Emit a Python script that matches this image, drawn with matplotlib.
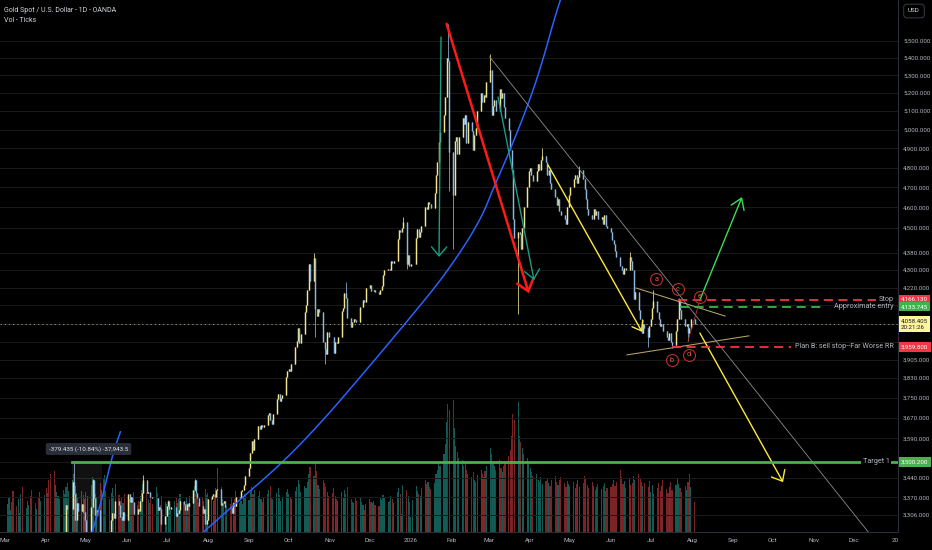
import numpy as np
import pandas as pd
import matplotlib
matplotlib.use("Agg")
import matplotlib.pyplot as plt
import matplotlib.dates as mdates

plt.rcParams['font.family'] = ['Roboto', 'DejaVu Sans']
plt.rcParams['lines.scale_dashes'] = False

# ---------------- daily closes (USD) per month ----------------
close_2025_03 = [2893, 2918, 2920, 2911, 2910, 2889, 2916, 2934, 2988, 2984, 3001, 3035, 3048, 3043, 3022, 3012, 3020, 3019, 3057, 3085, 3124]
close_2025_04 = [3113, 3134, 3114, 3037, 2982, 2983, 3083, 3176, 3237, 3211, 3230, 3343, 3327, 3328, 3424, 3381, 3289, 3349, 3319, 3345, 3317, 3289]
close_2025_05 = [3239, 3241, 3334, 3431, 3366, 3305, 3325, 3236, 3248, 3177, 3240, 3203, 3230, 3290, 3315, 3295, 3357, 3343, 3300, 3289, 3318, 3289]
close_2025_06 = [3380, 3353, 3372, 3353, 3310, 3326, 3322, 3355, 3386, 3433, 3385, 3388, 3370, 3369, 3368, 3368, 3323, 3333, 3328, 3274, 3303]
close_2025_07 = [3338, 3357, 3326, 3336, 3336, 3301, 3313, 3324, 3355, 3344, 3324, 3347, 3339, 3350, 3397, 3431, 3387, 3368, 3337, 3314, 3326, 3275, 3289]
close_2025_08 = [3363, 3373, 3380, 3369, 3397, 3398, 3342, 3348, 3356, 3336, 3336, 3332, 3315, 3348, 3339, 3371, 3366, 3393, 3397, 3416, 3448]
close_2025_09 = [3476, 3533, 3578, 3545, 3587, 3636, 3626, 3641, 3634, 3643, 3679, 3690, 3660, 3644, 3685, 3746, 3763, 3736, 3749, 3760, 3833, 3858]
close_2025_10 = [3866, 3857, 3886, 3960, 3985, 4040, 3975, 4017, 4110, 4142, 4210, 4326, 4250, 4356, 4125, 4095, 4126, 4112, 3982, 3952, 3930, 4025, 4002]
close_2025_11 = [4000, 3932, 3980, 3977, 4000, 4115, 4128, 4194, 4172, 4085, 4045, 4067, 4078, 4077, 4065, 4135, 4131, 4165, 4157, 4218]
close_2025_12 = [4232, 4205, 4205, 4208, 4198, 4189, 4208, 4228, 4279, 4299, 4304, 4302, 4340, 4332, 4340, 4445, 4491, 4480, 4500, 4530, 4330, 4370, 4320]
close_2026_01 = [4330, 4330, 4450, 4495, 4455, 4478, 4510, 4600, 4590, 4625, 4615, 4595, 4670, 4760, 4830, 4935, 4985, 5080, 5180, 5400, 5380, 4880]
close_2026_02 = [4660, 4940, 4960, 4870, 4960, 5060, 5030, 5080, 4930, 5040, 4990, 4890, 4970, 5010, 5100, 5200, 5150, 5190, 5180, 5260]
close_2026_03 = [5330, 5080, 5130, 5160, 5100, 5220, 5170, 5200, 5120, 5060, 5000, 4890, 4790, 4540, 4450, 4480, 4470, 4400, 4500, 4600, 4700, 4780]
close_2026_04 = [4800, 4760, 4730, 4780, 4820, 4790, 4840, 4860, 4830, 4760, 4790, 4720, 4690, 4650, 4610, 4640, 4580, 4560, 4540, 4520, 4600, 4660]
close_2026_05 = [4700, 4740, 4760, 4720, 4750, 4790, 4740, 4690, 4640, 4590, 4560, 4540, 4590, 4560, 4580, 4540, 4550, 4520, 4560, 4510, 4500]
close_2026_06 = [4480, 4440, 4420, 4390, 4360, 4320, 4300, 4280, 4310, 4300, 4360, 4340, 4300, 4170, 4200, 4120, 4080, 4020, 4060, 4040, 4000, 4050]
close_2026_07 = [4080, 4130, 4160, 4110, 4080, 4050, 4060, 4030, 4000, 3990, 4020, 3980, 3970, 4030, 4080, 4160, 4120, 4080, 4050, 4060, 4020, 4040, 4080]
close_2026_08 = [4058.405]

# ---------------- daily volume (ticks, thousands) per month ----------------
vol_2025_03 = [28, 35, 22, 30, 41, 26, 33, 19, 38, 45, 24, 31, 27, 36, 42, 29, 23, 34, 40, 31, 37]
vol_2025_04 = [44, 39, 52, 58, 61, 47, 40, 36, 33, 42, 38, 45, 49, 41, 52, 58, 46, 39, 35, 41, 37, 33]
vol_2025_05 = [40, 36, 47, 55, 44, 38, 35, 49, 42, 53, 57, 41, 33, 39, 44, 36, 48, 37, 31, 34, 29, 38]
vol_2025_06 = [37, 33, 29, 35, 40, 27, 31, 36, 42, 48, 39, 33, 29, 35, 28, 45, 39, 31, 27, 36, 30]
vol_2025_07 = [28, 32, 25, 22, 31, 35, 29, 33, 38, 30, 27, 34, 29, 36, 41, 46, 38, 33, 29, 35, 31, 43, 37]
vol_2025_08 = [39, 34, 31, 36, 44, 64, 45, 33, 29, 31, 26, 28, 35, 30, 33, 41, 29, 31, 28, 34, 38]
vol_2025_09 = [32, 40, 45, 38, 42, 36, 41, 33, 30, 35, 38, 42, 46, 35, 33, 39, 44, 37, 31, 35, 40, 43]
vol_2025_10 = [38, 35, 33, 41, 45, 52, 48, 40, 46, 44, 50, 58, 65, 56, 69, 61, 47, 43, 52, 49, 45, 40, 36]
vol_2025_11 = [39, 44, 36, 33, 31, 40, 35, 42, 38, 45, 33, 30, 29, 34, 31, 35, 30, 27, 22, 28]
vol_2025_12 = [33, 30, 29, 31, 27, 26, 35, 32, 37, 34, 30, 31, 36, 33, 29, 40, 44, 38, 18, 47, 42, 36, 30]
vol_2026_01 = [15, 32, 46, 41, 38, 36, 44, 52, 48, 50, 45, 43, 49, 58, 62, 70, 66, 78, 88, 110, 128, 122]
vol_2026_02 = [132, 104, 86, 80, 74, 72, 66, 70, 62, 58, 55, 60, 52, 50, 57, 62, 58, 55, 61, 66]
vol_2026_03 = [84, 78, 70, 66, 62, 72, 64, 60, 66, 70, 76, 82, 96, 118, 112, 130, 96, 90, 84, 78, 74, 70]
vol_2026_04 = [64, 60, 56, 58, 52, 50, 55, 48, 51, 54, 49, 46, 52, 56, 50, 47, 52, 55, 49, 45, 51, 48]
vol_2026_05 = [46, 50, 44, 48, 52, 45, 49, 56, 53, 47, 44, 50, 46, 42, 45, 48, 43, 46, 49, 41, 44]
vol_2026_06 = [45, 48, 52, 46, 50, 62, 55, 48, 51, 44, 53, 47, 49, 56, 52, 58, 54, 50, 46, 49, 45, 51]
vol_2026_07 = [40, 47, 38, 44, 49, 41, 46, 52, 43, 39, 45, 50, 42, 47, 53, 48, 44, 40, 46, 42, 50, 58, 45]
vol_2026_08 = [30]

# ---------------- notable wicks ----------------
wick_high_dates = ['2025-04-22', '2025-05-06', '2025-06-13', '2025-07-22', '2025-10-20', '2025-11-13',
                   '2025-12-26', '2026-01-29', '2026-03-02', '2026-04-10', '2026-05-08', '2026-06-15',
                   '2026-07-03', '2026-07-22']
wick_high_vals = [3500, 3438, 3451, 3438, 4381, 4245, 4550, 5600, 5420, 4900, 4810, 4385, 4210, 4172]
wick_low_dates = ['2025-10-21', '2025-10-28', '2025-12-29', '2026-01-30', '2026-02-02', '2026-03-23',
                  '2026-06-29', '2026-07-17', '2026-07-29']
wick_low_vals = [4004, 3886, 4305, 4680, 4400, 4100, 3960, 3955, 3985]

# ---------------- axis labels ----------------
price_ticks = [5500, 5400, 5300, 5200, 5100, 5000, 4900, 4800, 4700, 4600, 4500, 4380, 4300, 4220,
               4140, 4060, 3980, 3905, 3830, 3750, 3670, 3590, 3500, 3440, 3370, 3306]
hidden_ticks = [4140, 4060, 3980, 3500]
month_labels = ['Mar', 'Apr', 'May', 'Jun', 'Jul', 'Aug', 'Sep', 'Oct', 'Nov', 'Dec', '2026', 'Feb',
                'Mar', 'Apr', 'May', 'Jun', 'Jul', 'Aug', 'Sep', 'Oct', 'Nov', 'Dec', '20']

# ---------------- levels ----------------
stop_price = 4166.13
entry_price = 4133.745
planb_price = 3959.8
target_price = 3500.2
last_price = 4058.405

# ---------------- drawings (date, price anchors) ----------------
blue_arc_dates = ['2025-07-26', '2025-08-25', '2025-09-26', '2025-10-25', '2025-11-24', '2025-12-30',
                  '2026-01-28', '2026-02-22', '2026-03-05', '2026-03-16', '2026-03-31', '2026-04-10',
                  '2026-04-19', '2026-04-25']
blue_arc_prices = [3236, 3360, 3496, 3649, 3834, 4075, 4287, 4528, 4706, 4876, 5145, 5370, 5624, 5776]
small_arc_dates = ['2025-05-04', '2025-05-13', '2025-05-21', '2025-05-27']
small_arc_prices = [3220, 3360, 3526, 3615]

BG = '#000000'
UP = '#f2e58f'
DN = '#8db7df'
VUP = '#125c55'
VDN = '#7a2428'


def D(s):
    return mdates.date2num(pd.Timestamp(s))


months = pd.date_range('2025-03-01', '2026-08-01', freq='MS')
closes_list = [close_2025_03, close_2025_04, close_2025_05, close_2025_06, close_2025_07, close_2025_08,
               close_2025_09, close_2025_10, close_2025_11, close_2025_12, close_2026_01, close_2026_02,
               close_2026_03, close_2026_04, close_2026_05, close_2026_06, close_2026_07, close_2026_08]
vols_list = [vol_2025_03, vol_2025_04, vol_2025_05, vol_2025_06, vol_2025_07, vol_2025_08,
             vol_2025_09, vol_2025_10, vol_2025_11, vol_2025_12, vol_2026_01, vol_2026_02,
             vol_2026_03, vol_2026_04, vol_2026_05, vol_2026_06, vol_2026_07, vol_2026_08]

dates, closes, vols = [], [], []
for m, cl, v in zip(months, closes_list, vols_list):
    days = pd.bdate_range(m, m + pd.offsets.MonthEnd(0))
    n = min(len(cl), len(days))
    dates.extend(days[:n])
    closes.extend(cl[:n])
    vols.extend((list(v) + [v[-1]] * n)[:n])

x = mdates.date2num(pd.DatetimeIndex(dates))
c = np.array(closes, dtype=float)
o = np.concatenate([[c[0]], c[:-1]])
hi = np.maximum(o, c)
lo = np.minimum(o, c)
for dstr, val in zip(wick_high_dates, wick_high_vals):
    i = int(np.argmin(np.abs(x - D(dstr))))
    hi[i] = max(hi[i], val)
for dstr, val in zip(wick_low_dates, wick_low_vals):
    i = int(np.argmin(np.abs(x - D(dstr))))
    lo[i] = min(lo[i], val)
up = c >= o

fig = plt.figure(figsize=(9.32, 5.5), dpi=100, facecolor=BG)
ax = fig.add_axes([0, 18 / 550, 898 / 932, 532 / 550])
ax2 = ax.twinx()
ax.set_zorder(2)
ax.patch.set_visible(False)
ax2.set_zorder(1)
ax2.patch.set_facecolor(BG)

# volume
ax2.bar(x, vols, width=0.85, color=np.where(up, VUP, VDN), linewidth=0)
ax2.set_ylim(0, 532)
ax2.set_yticks([])
for s in ax2.spines.values():
    s.set_visible(False)
ax2.tick_params(axis='both', length=0, labelleft=False, labelright=False)

# axes scale
base = D('2025-03-01')
ax.set_xlim(base - 3.77, base + 673.4)
ax.set_yscale('log')
ax.set_ylim(3246.5, 5745.5)
ax.yaxis.set_minor_locator(matplotlib.ticker.NullLocator())
ax.set_yticks(price_ticks)
ax.set_yticklabels(['' if t in hidden_ticks else f'{t:,.3f}' for t in price_ticks])
ax.yaxis.set_minor_formatter(matplotlib.ticker.NullFormatter())
ax.yaxis.tick_right()
ax.tick_params(axis='y', length=0, pad=3.6, labelsize=4.4, colors='#b2b5be')
month_pos = [mdates.date2num(d) for d in pd.date_range('2025-03-01', '2027-01-01', freq='MS')]
ax.set_xticks(month_pos)
ax.set_xticklabels(month_labels)
ax.tick_params(axis='x', length=0, pad=4.6, labelsize=4.5, colors='#b2b5be')
ax.grid(axis='y', color='#1a1a1a', lw=0.7)
ax.grid(axis='x', visible=False)
for k, s in ax.spines.items():
    s.set_visible(k in ('right', 'bottom'))
    s.set_color('#2a2e39')
    s.set_linewidth(0.8)

# candles
for mask, col in ((up, UP), (~up, DN)):
    ax.vlines(x[mask], lo[mask], hi[mask], color=col, lw=0.55, zorder=3)
    ax.vlines(x[mask], o[mask], c[mask], color=col, lw=1.05, zorder=3)

# current price line
ax.axhline(last_price, color='#8f8f78', lw=0.7, ls=(0, (1, 2)), zorder=2)


def chaikin(px, py, n=3):
    px, py = list(px), list(py)
    for _ in range(n):
        qx, qy = [px[0]], [py[0]]
        for i in range(len(px) - 1):
            qx += [0.75 * px[i] + 0.25 * px[i + 1], 0.25 * px[i] + 0.75 * px[i + 1]]
            qy += [0.75 * py[i] + 0.25 * py[i + 1], 0.25 * py[i] + 0.75 * py[i + 1]]
        qx.append(px[-1]); qy.append(py[-1])
        px, py = qx, qy
    return np.array(px), np.array(py)


bx, by = chaikin([D(d) for d in blue_arc_dates], np.log(blue_arc_prices))
ax.plot(bx, np.exp(by), color='#2962ff', lw=1.1, zorder=4)
sx, sy = chaikin([D(d) for d in small_arc_dates], np.log(small_arc_prices))
ax.plot(sx, np.exp(sy), color='#2962ff', lw=1.1, zorder=4)

# gray long trendline
ax.plot([D('2026-03-01 12:00'), D('2026-12-15')], [5405, 3229], color='#8a8d96', lw=0.6, zorder=4)

# triangle
ax.plot([D('2026-06-19 22:00'), D('2026-08-26')], [4218, 4093], color='#b7a56a', lw=0.75, zorder=4)
ax.plot([D('2026-06-13'), D('2026-09-13')], [3926, 4007], color='#b7a56a', lw=0.75, zorder=4)


def arrow(d0, p0, d1, p1, color, lw, hl, hw):
    ax.annotate('', xy=(D(d1), p1), xytext=(D(d0), p0),
                arrowprops=dict(arrowstyle=f'->,head_length={hl},head_width={hw}', color=color, lw=lw,
                                shrinkA=0, shrinkB=0, joinstyle='miter'), zorder=5)


arrow('2026-01-28', 5600, '2026-03-31', 4195, '#ff1a1a', 1.8, 0.75, 0.6)
arrow('2026-01-23 19:00', 5522, '2026-01-22 07:00', 4361, '#1c9c84', 1.0, 0.65, 0.55)
arrow('2026-03-07 19:00', 5178, '2026-04-03 22:00', 4254, '#1c9c84', 1.0, 0.65, 0.55)
arrow('2026-04-14 12:00', 4813, '2026-06-24 10:00', 4024, '#ffe93b', 1.0, 0.6, 0.45)
arrow('2026-08-07', 4019, '2026-10-08 17:00', 3425, '#ffe93b', 1.0, 0.65, 0.55)
arrow('2026-08-07', 4164, '2026-09-07 19:00', 4651, '#3ddc52', 1.0, 0.75, 0.5)

# wave leg d -> e
ax.plot([D('2026-07-29'), D('2026-08-06 10:00')], [3985, 4151], color='#c0392b', lw=0.6, zorder=4)

# wave labels
wave_labels = ['a', 'b', 'c', 'd', 'e']
wave_dates = ['2026-07-05', '2026-07-17', '2026-07-21 12:00', '2026-07-29 19:00', '2026-08-07']
wave_prices = [4259, 3904, 4213, 3926, 4178]
for lab, dd, pp in zip(wave_labels, wave_dates, wave_prices):
    ax.plot([D(dd)], [pp], marker='o', ms=8.6, mfc='none', mec='#b8302a', mew=0.8, zorder=6)
    ax.text(D(dd), pp, lab, ha='center', va='center', fontsize=5.2, color='#e8584e', zorder=6)

# level lines
ax.plot([D('2026-07-21 12:00'), D('2026-12-18')], [stop_price] * 2, color='#f23645', lw=1.3,
        dashes=(6.5, 4), zorder=5)
ax.plot([D('2026-07-23'), D('2026-11-07')], [entry_price] * 2, color='#3cb54a', lw=1.3,
        dashes=(6.5, 4), zorder=5)
ax.plot([D('2026-07-17'), D('2026-10-15')], [planb_price] * 2, color='#f23645', lw=1.3,
        dashes=(6.5, 4), zorder=5)
ax.plot([D('2025-04-20 12:00'), base + 673.4], [target_price] * 2, color='#4caf50', lw=2.0, zorder=5)

LBL = '#b2b5be'
ax.text(D('2026-12-31'), stop_price, 'Stop', ha='right', va='center', fontsize=5.2, color=LBL, zorder=7)
ax.text(D('2026-12-31'), entry_price, 'Approximate entry', ha='right', va='center', fontsize=5.2,
        color=LBL, zorder=7)
ax.text(D('2026-12-31'), planb_price, 'Plan B: sell stop--Far Worse RR', ha='right', va='center',
        fontsize=5.2, color=LBL, zorder=7)
ax.text(D('2026-12-28'), target_price, 'Target 1', ha='right', va='center', fontsize=5.2, color=LBL,
        zorder=7, bbox=dict(boxstyle='square,pad=0.25', fc=BG, ec='none'))

# measurement tool
ax.fill_between([D('2025-04-20 12:00'), D('2025-05-13')], 3120, target_price, color='#ffffff',
                alpha=0.07, lw=0, zorder=2)
ax.text(D('2025-05-03'), 3549, '-379.435 (-10.84%) -37,943.5', ha='center', va='center', fontsize=4.5,
        color='#e0e3eb', zorder=8, bbox=dict(boxstyle='round,pad=0.5,rounding_size=0.3', fc='#2a2e39', ec='none'))


# price-scale boxes
def pbox(price, text, fc, tc, dy=0, va='center'):
    ax.annotate(text, xy=(1, price), xycoords=ax.get_yaxis_transform(), xytext=(2.3, dy),
                textcoords='offset points', ha='left', va=va, fontsize=4.4, color=tc,
                bbox=dict(boxstyle='square,pad=0.35', fc=fc, ec='none'), annotation_clip=False,
                zorder=10, linespacing=1.35)


pbox(stop_price, '4,166.130', '#f23645', '#ffffff')
pbox(entry_price, '4,133.745', '#3cb54a', '#ffffff')
pbox(last_price, '4,058.405\n20:21:26', '#fff59d', '#131722', dy=4, va='top')
pbox(planb_price, '3,959.800', '#f23645', '#ffffff')
pbox(target_price, '3,500.200', '#4caf50', '#ffffff')

# header texts
fig.text(4 / 932, 1 - 10 / 550, 'Gold Spot / U.S. Dollar - 1D - OANDA', va='center', ha='left', fontsize=5,
         color='#d1d4dc')
fig.text(4 / 932, 1 - 20 / 550, 'Vol - Ticks', va='center', ha='left', fontsize=5, color='#d1d4dc')
fig.text(914 / 932, 1 - 11 / 550, 'USD', ha='center', va='center', fontsize=4.5, color='#d1d4dc',
         bbox=dict(boxstyle='round,pad=0.7,rounding_size=0.5', fc=BG, ec='#434651', lw=0.6))

fig.savefig('out.png', dpi=100, facecolor=BG)
